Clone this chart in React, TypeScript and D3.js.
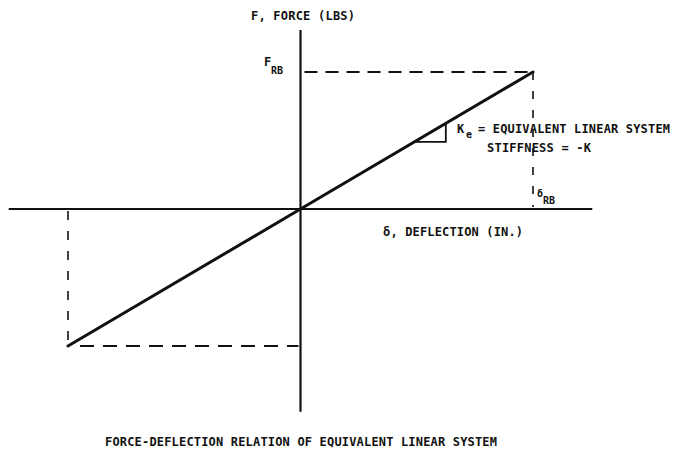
import React from "react";
import * as d3 from "d3";

// Normalised deflection (δ/δRB) and force (F/FRB) of the linear system
const deflection = [-1, 0, 1];
const force = [-1, 0, 1];
// Axis extents in the same normalised units
const xAxisExtent = [-1.255, 1.255];
const yAxisExtent = [-1.48, 1.307];

const W = 677;
const H = 457;
const FONT = "'DejaVu Sans Mono', 'Liberation Mono', monospace";

export default function App() {
  const x = d3.scaleLinear().domain([-1, 1]).range([68, 533]);
  const y = d3.scaleLinear().domain([-1, 1]).range([346, 72]);

  const pts = deflection.map((d, i) => [x(d), y(force[i])] as [number, number]);
  const linePath = d3.line()(pts) || "";

  const x0 = x(0);
  const y0 = y(0);
  const xMax = x(deflection[2]);
  const xMin = x(deflection[0]);
  const yMax = y(force[2]);
  const yMin = y(force[0]);

  // slope triangle on the stiffness line
  const tA = 0.49;
  const tB = 0.625;
  const slope = (yMax - y0) / (xMax - x0);
  const tx1 = x(tA);
  const tx2 = x(tB);
  const ty1 = y0 + slope * (tx1 - x0);
  const ty2 = y0 + slope * (tx2 - x0);

  const txt: React.CSSProperties = { fontFamily: FONT, fill: "#111", fontWeight: "bold" };

  return (
    <svg
      width={W}
      height={H}
      viewBox={`0 0 ${W} ${H}`}
      style={{ position: "fixed", left: 0, top: 0, background: "#fff" }}
    >
      <rect width={W} height={H} fill="#fff" />
      {/* axes */}
      <line x1={x(xAxisExtent[0])} x2={x(xAxisExtent[1])} y1={y0} y2={y0} stroke="#111" strokeWidth={2} />
      <line x1={x0} x2={x0} y1={y(yAxisExtent[1])} y2={y(yAxisExtent[0])} stroke="#111" strokeWidth={2.2} />

      {/* dashed limits */}
      <g stroke="#111" strokeWidth={2} fill="none">
        <line x1={x0 + 4} x2={xMax} y1={yMax} y2={yMax} strokeDasharray="13 8" />
        <line x1={xMax} x2={xMax} y1={yMax} y2={y0 - 2} strokeDasharray="8 11" strokeWidth={1.6} />
        <line x1={xMin} x2={xMin} y1={y0 + 2} y2={yMin} strokeDasharray="9 11" strokeWidth={1.6} />
        <line x1={xMin + 12} x2={x0 - 2} y1={yMin} y2={yMin} strokeDasharray="14 9" />
      </g>

      {/* force-deflection line */}
      <path d={linePath} stroke="#111" strokeWidth={3} fill="none" strokeLinecap="round" />

      {/* slope triangle */}
      <polyline
        points={`${tx1},${ty1} ${tx2},${ty1} ${tx2},${ty2}`}
        stroke="#111"
        strokeWidth={1.8}
        fill="none"
      />

      {/* labels */}
      <text x={251} y={20} style={txt} fontSize={12} textLength={104}>F, FORCE (LBS)</text>

      <text x={264} y={66} style={txt} fontSize={12}>F</text>
      <text x={271} y={74} style={txt} fontSize={10}>RB</text>

      <text x={457} y={133} style={txt} fontSize={12}>K</text>
      <text x={466} y={138} style={txt} fontSize={10}>e</text>
      <text x={478} y={133} style={txt} fontSize={12} textLength={192}>= EQUIVALENT LINEAR SYSTEM</text>
      <text x={487} y={152} style={txt} fontSize={12} textLength={104}>STIFFNESS = -K</text>

      <text x={537} y={197} style={txt} fontSize={10}>δ</text>
      <text x={543} y={204} style={txt} fontSize={10}>RB</text>

      <text x={383} y={236} style={txt} fontSize={12} textLength={140}>δ, DEFLECTION (IN.)</text>

      <text x={105} y={446} style={txt} fontSize={12} textLength={392}>
        FORCE-DEFLECTION RELATION OF EQUIVALENT LINEAR SYSTEM
      </text>
    </svg>
  );
}
